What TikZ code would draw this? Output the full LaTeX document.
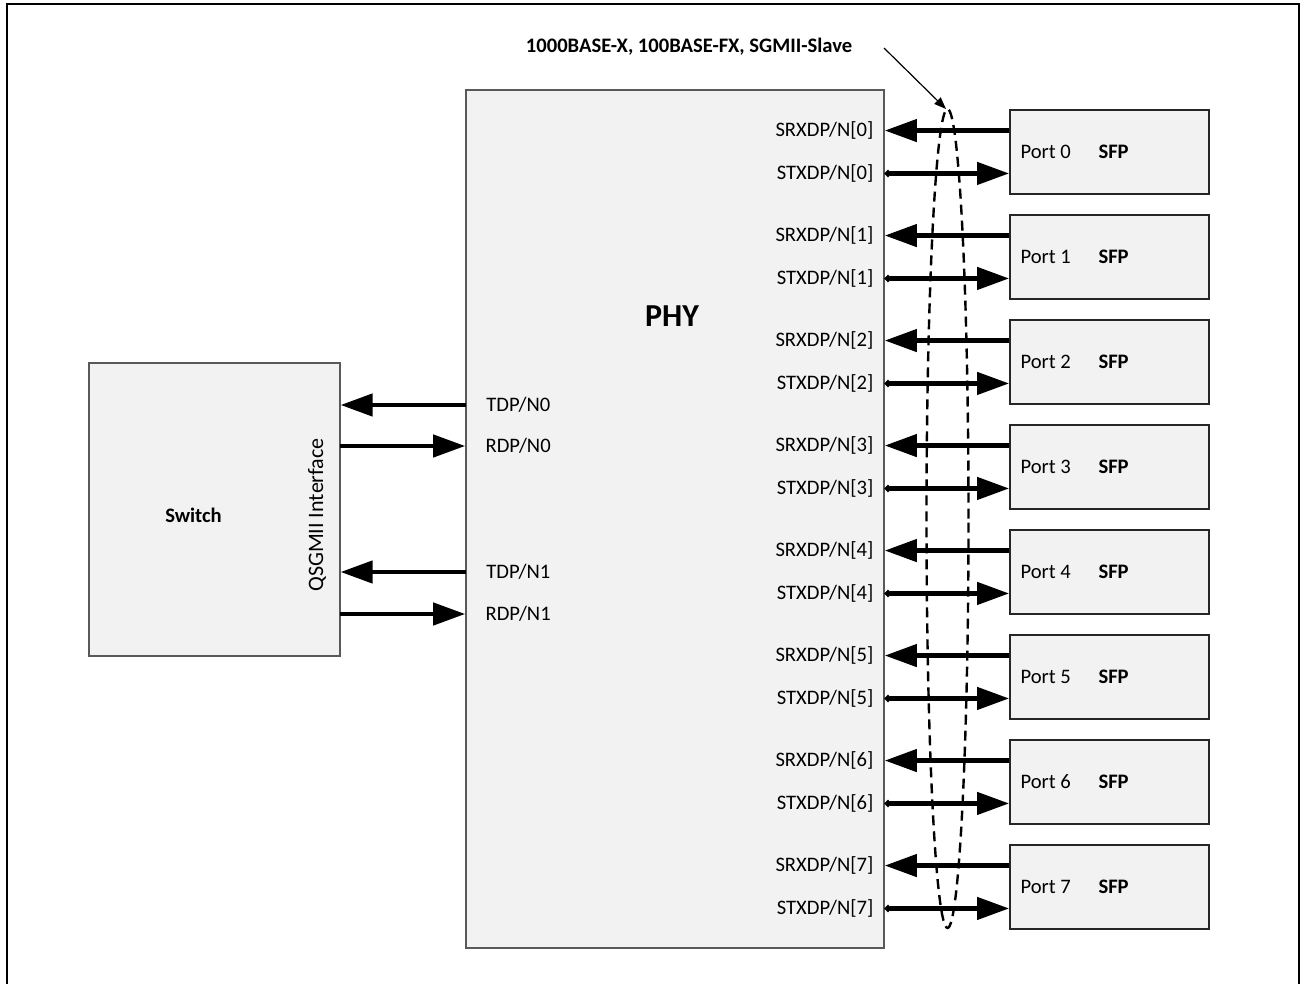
\documentclass[tikz,border=0pt]{standalone}
\usepackage{fontspec}
\setmainfont{Carlito}
\usetikzlibrary{arrows.meta,calc}
\begin{document}
\begin{tikzpicture}[x=0.5pt,y=-0.5pt,
  box/.style={draw=black!65, fill=black!5, line width=0.6pt, inner sep=0pt},
  sfp/.style={box, draw=black!85, line width=0.9pt, minimum width=99.5pt, minimum height=42pt},
  lbl/.style={font=\fontsize{10.3}{12}\selectfont, inner sep=0pt},
  blbl/.style={font=\fontsize{10.3}{12}\selectfont\bfseries, inner sep=0pt},
  bus/.style={line width=2.2pt, -{Triangle[length=16pt,width=11pt]}},
  txbus/.style={line width=2.2pt, {Circle[length=3.2pt]}-{Triangle[length=16pt,width=11pt]}},
  frame/.style={line width=1pt},
  ring/.style={line width=1.2pt, dash pattern=on 5pt off 3pt},
  pointer/.style={line width=0.6pt, -{Triangle[length=6pt,width=4.5pt]}}
]
\useasboundingbox (0,0) rectangle (1301,984);
\fill[white] (0,0) rectangle (1301,984);
\draw[frame] (7,1000) -- (7,4) -- (1299,4) -- (1299,1000);

% main boxes
\node[box, minimum width=125.5pt, minimum height=146.5pt] (sw) at (214.5,509.5) {};
\node[box, line width=0.8pt, minimum width=209pt, minimum height=429pt] (phy) at (675,519) {};
\node[font=\fontsize{16}{18}\selectfont\bfseries, inner sep=0pt] (phyl) at (672,316) {PHY};
\node[blbl] (swl) at (193.5,515) {Switch};
\node[lbl, font=\fontsize{11}{13}\selectfont, rotate=90] (qs) at (317,515) {QSGMII Interface};

% left side interface
\coordinate (t0) at (466,405);
\coordinate (r0) at (340,446);
\coordinate (t1) at (466,572);
\coordinate (r1) at (340,614);
\draw[bus] (t0) -- (t0 -| sw.east);
\draw[bus] (r0) -- (r0 -| phy.west);
\draw[bus] (t1) -- (t1 -| sw.east);
\draw[bus] (r1) -- (r1 -| phy.west);
\node[lbl, anchor=west] (lt0) at ([xshift=10pt]t0) {TDP/N0};
\node[lbl, anchor=west] (lr0) at ([xshift=10pt]r0 -| phy.west) {RDP/N0};
\node[lbl, anchor=west] (lt1) at ([xshift=10pt]t1) {TDP/N1};
\node[lbl, anchor=west] (lr1) at ([xshift=10pt]r1 -| phy.west) {RDP/N1};

% SFP ports
\foreach \i in {0,...,7} {
  \node[sfp] (s\i) at (1109.5,{152+105*\i}) {};
  \node[lbl, anchor=west] (p\i) at ([xshift=5.5pt]s\i.west) {Port \i};
  \node[blbl, anchor=west] (f\i) at ([xshift=44.5pt]s\i.west) {SFP};
  \coordinate (rx\i) at ($(s\i.north west)!0.25!(s\i.south west)$);
  \coordinate (tx\i) at ($(s\i.north west)!0.75!(s\i.south west)$);
  \draw[bus] (rx\i) -- (rx\i -| phy.east);
  \draw[txbus] (tx\i -| phy.east) -- (tx\i);
  \node[lbl, anchor=east] (lrx\i) at ([xshift=-5.5pt]rx\i -| phy.east) {SRXDP/N[\i]};
  \node[lbl, anchor=east] (ltx\i) at ([xshift=-5.5pt]tx\i -| phy.east) {STXDP/N[\i]};
}

% dashed grouping ellipse and annotation
\draw[ring] (947.5,518.5) ellipse [x radius=10.5pt, y radius=204.75pt];
\coordinate (elltop) at (946,109);
\node[blbl] (title) at (689,47) {1000BASE-X, 100BASE-FX, SGMII-Slave};
\coordinate (annstart) at (884,48);
\draw[pointer] (annstart) -- (elltop);
\end{tikzpicture}
\end{document}
